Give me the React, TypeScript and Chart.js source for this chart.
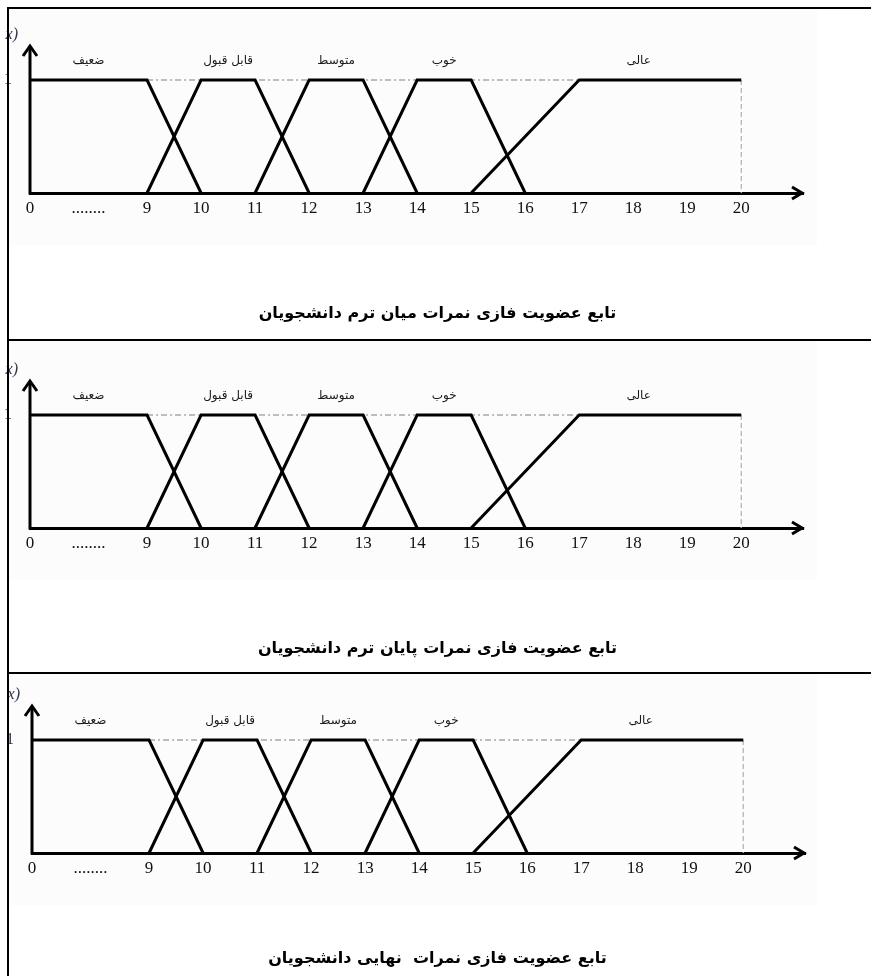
import React, { useEffect, useRef } from "react";
import { Chart, registerables } from "chart.js";

Chart.register(...registerables);

// ---------- data ----------
const tickGrades = [0, 4.5, 9, 10, 11, 12, 13, 14, 15, 16, 17, 18, 19, 20];
const tickLabels = ["0", "........", "9", "10", "11", "12", "13", "14", "15", "16", "17", "18", "19", "20"];

const setNames = ["ضعیف", "قابل قبول", "متوسط", "خوب", "عالی"];
const setLabelAt = [4.5, 10.5, 12.5, 14.5, 18.1];

const weakX = [0, 9, 10];
const weakY = [1, 1, 0];
const acceptableX = [9, 10, 11, 12];
const acceptableY = [0, 1, 1, 0];
const averageX = [11, 12, 13, 14];
const averageY = [0, 1, 1, 0];
const goodX = [13, 14, 15, 16];
const goodY = [0, 1, 1, 0];
const excellentX = [15, 17, 20];
const excellentY = [0, 1, 1];

const guideTopX = [9, 17];
const guideTopY = [1, 1];
const guideEndX = [20, 20];
const guideEndY = [1, 0];

const captions = [
  "تابع عضویت فازی نمرات میان ترم دانشجویان",
  "تابع عضویت فازی نمرات پایان ترم دانشجویان",
  "تابع عضویت فازی نمرات  نهایی دانشجویان",
];

// ---------- axis (broken between 0 and 9) ----------
const BREAK_UNITS = 2.167;
const toAxis = (g: number) => (g <= 9 ? (g * BREAK_UNITS) / 9 : BREAK_UNITS + (g - 9));
const X_MAX = 14.31;
const Y_MAX = 1.31;

const PLOT_W = 773;
const AXIS_H = 40;

const panels = [
  { top: 9, height: 330, axisX: 30, tipY: 45, baseY: 193, captionY: 313 },
  { top: 341, height: 331, axisX: 30, tipY: 380, baseY: 528, captionY: 648 },
  { top: 674, height: 302, axisX: 32, tipY: 705, baseY: 853, captionY: 958 },
];

const pts = (xs: number[], ys: number[]) => xs.map((x, i) => ({ x: toAxis(x), y: ys[i] }));

const decorPlugin = {
  id: "decor",
  afterDraw(chart: any) {
    const { ctx, chartArea, scales } = chart;
    const { left, right, top, bottom } = chartArea;
    ctx.save();
    ctx.strokeStyle = "#000";
    ctx.lineWidth = 3;
    ctx.lineCap = "butt";
    ctx.lineJoin = "miter";
    // y axis
    ctx.beginPath();
    ctx.moveTo(left, bottom + 1.5);
    ctx.lineTo(left, top + 1);
    ctx.stroke();
    // up arrow
    ctx.beginPath();
    ctx.moveTo(left - 7, top + 11);
    ctx.lineTo(left, top + 1);
    ctx.lineTo(left + 7, top + 11);
    ctx.stroke();
    // right arrow
    ctx.beginPath();
    ctx.moveTo(right - 11, bottom - 6);
    ctx.lineTo(right - 1, bottom);
    ctx.lineTo(right - 11, bottom + 6);
    ctx.stroke();

    // set names
    const yOne = scales.y.getPixelForValue(1);
    ctx.fillStyle = "#1a1a1a";
    ctx.font = '12px "DejaVu Sans"';
    ctx.textAlign = "center";
    ctx.textBaseline = "middle";
    (ctx as any).direction = "rtl";
    setNames.forEach((n, i) => {
      ctx.fillText(n, scales.x.getPixelForValue(toAxis(setLabelAt[i])), yOne - 19);
    });
    (ctx as any).direction = "ltr";

    // "1" and "x)" fragments
    ctx.fillStyle = "#2c3550";
    ctx.textAlign = "right";
    ctx.font = '16px "Liberation Serif"';
    ctx.fillText("1", left - 18, yOne);
    ctx.font = 'italic 16px "Liberation Serif"';
    ctx.fillText("x)", left - 12, top - 10);
    ctx.restore();
  },
};

function Panel({ idx }: { idx: number }) {
  const ref = useRef<HTMLCanvasElement>(null);
  const p = panels[idx];
  useEffect(() => {
    if (!ref.current) return;
    const line = (data: any[], extra: any = {}) => ({
      data,
      borderColor: "#000",
      borderWidth: 3,
      pointRadius: 0,
      tension: 0,
      fill: false,
      clip: false,
      borderJoinStyle: "miter",
      order: 0,
      ...extra,
    });
    const chart = new Chart(ref.current, {
      type: "line",
      data: {
        datasets: [
          line(pts(weakX, weakY)),
          line(pts(acceptableX, acceptableY)),
          line(pts(averageX, averageY)),
          line(pts(goodX, goodY)),
          line(pts(excellentX, excellentY)),
          line(pts(guideTopX, guideTopY), {
            borderColor: "#a8a8a8",
            borderWidth: 1.3,
            borderDash: [6, 3, 2, 3],
            order: 2,
          }),
          line(pts(guideEndX, guideEndY), {
            borderColor: "#b5b5b5",
            borderWidth: 1.3,
            borderDash: [5, 3],
            order: 2,
          }),
        ] as any,
      },
      options: {
        animation: false,
        responsive: false,
        maintainAspectRatio: false,
        events: [],
        layout: {
          padding: {
            left: p.axisX,
            right: 871 - (p.axisX + PLOT_W),
            top: p.tipY - p.top,
            bottom: p.height - (p.baseY - p.top) - AXIS_H,
          },
        },
        plugins: {
          legend: { display: false },
          tooltip: { enabled: false },
          title: { display: false },
        },
        scales: {
          x: {
            type: "linear",
            min: 0,
            max: X_MAX,
            grid: { display: false, drawTicks: false },
            border: { display: true, color: "#000", width: 3 },
            ticks: {
              autoSkip: false,
              maxRotation: 0,
              padding: 5,
              color: "#111",
              font: { family: '"Liberation Serif", serif', size: 17 },
              callback: (_v: any, i: number) => tickLabels[i],
            },
            afterBuildTicks: (s: any) => {
              s.ticks = tickGrades.map((g) => ({ value: toAxis(g) }));
            },
            afterFit: (s: any) => {
              s.height = AXIS_H;
            },
          },
          y: { display: false, min: 0, max: Y_MAX },
        },
      } as any,
      plugins: [decorPlugin],
    });
    return () => chart.destroy();
  }, [idx]);

  return (
    <>
      <div
        style={{
          position: "absolute",
          left: 9,
          top: p.top,
          width: 808,
          height: p.baseY - p.top + 52,
          background: "#fcfcfc",
        }}
      />
      <canvas
        ref={ref}
        width={871}
        height={p.height}
        style={{ position: "absolute", left: 0, top: p.top, width: 871, height: p.height, display: "block" }}
      />
      <div
        style={{
          position: "absolute",
          left: 7,
          width: 861,
          top: p.captionY - 15,
          height: 30,
          lineHeight: "30px",
          textAlign: "center",
          direction: "rtl",
          whiteSpace: "pre",
          fontFamily: '"DejaVu Sans", sans-serif',
          fontWeight: "bold",
          fontSize: 16,
          color: "#000",
        }}
      >
        {captions[idx]}
      </div>
    </>
  );
}

export default function App() {
  const hLine = (y: number) => (
    <div style={{ position: "absolute", left: 7, top: y, width: 864, height: 2, background: "#000", zIndex: 2 }} />
  );
  return (
    <div
      style={{
        position: "absolute",
        left: 0,
        top: 0,
        width: 871,
        height: 976,
        overflow: "hidden",
        background: "#fff",
      }}
    >
      <Panel idx={0} />
      <Panel idx={1} />
      <Panel idx={2} />
      {hLine(7)}
      {hLine(339)}
      {hLine(672)}
      <div style={{ position: "absolute", left: 7, top: 7, width: 2, height: 969, background: "#000", zIndex: 2 }} />
    </div>
  );
}
